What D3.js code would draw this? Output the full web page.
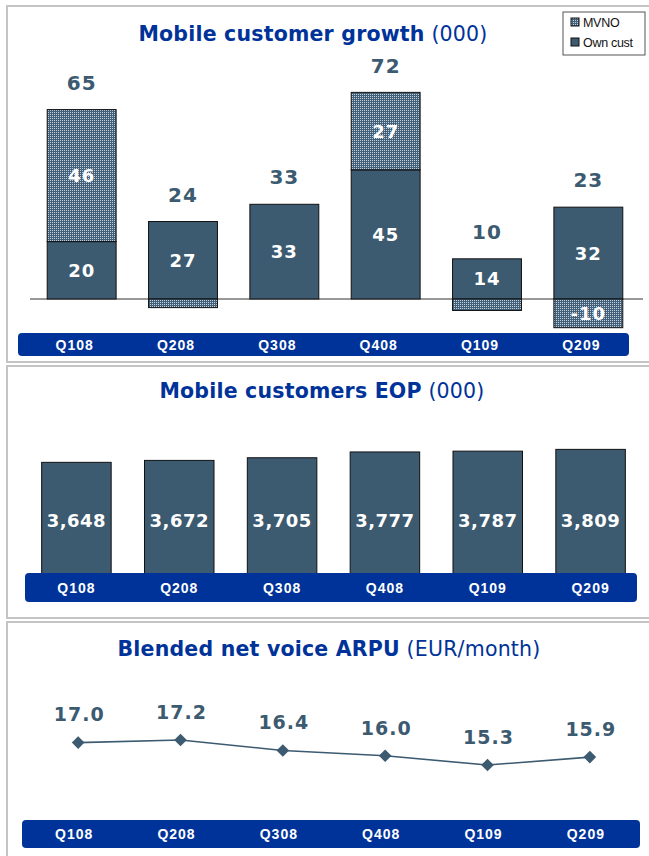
<!DOCTYPE html>
<html>
<head>
<meta charset="utf-8">
<script src="https://cdn.jsdelivr.net/npm/d3@7"></script>
<style>
  body { margin: 0; background: #fff; }
  svg { display: block; }
</style>
</head>
<body>
<script>
const quarters = ["Q108", "Q208", "Q308", "Q408", "Q109", "Q209"];
const ownCust = [20, 27, 33, 45, 14, 32];
const mvno = [46, -3, 0, 27, -4, -10];
const growthTotal = [65, 24, 33, 72, 10, 23];
const customersEop = [3648, 3672, 3705, 3777, 3787, 3809];
const arpu = [17.0, 17.2, 16.4, 16.0, 15.3, 15.9];

const W = 649, H = 856;
const slate = "#3c5a70", navy = "#003399";
const numFont = "'DejaVu Sans', Verdana, sans-serif";
const qFont = "'Liberation Sans', Arial, sans-serif";

const svg = d3.select("body").append("svg")
    .attr("width", W)
    .attr("height", H);

// dotted fill for the MVNO segments
const pat = svg.append("defs").append("pattern")
    .attr("id", "dots")
    .attr("width", 2).attr("height", 2)
    .attr("patternUnits", "userSpaceOnUse");
pat.append("rect").attr("width", 2).attr("height", 2).attr("fill", "#42607a");
pat.append("rect").attr("width", 1).attr("height", 1).attr("fill", "#c4d0da");

// panel frames
[[7, 6, 356], [7, 366, 252], [7, 622, 260]].forEach(([x, y, h]) => {
  svg.append("rect")
      .attr("x", x).attr("y", y)
      .attr("width", W + 20).attr("height", h)
      .attr("fill", "none")
      .attr("stroke", "#c4c4c4")
      .attr("stroke-width", 2);
});

function title(cx, y, bold, rest) {
  const t = svg.append("text")
      .attr("x", cx).attr("y", y)
      .attr("text-anchor", "middle")
      .attr("font-family", numFont)
      .attr("font-size", 20.5)
      .attr("letter-spacing", 0.2)
      .attr("fill", navy);
  t.append("tspan").attr("font-weight", "bold").text(bold);
  t.append("tspan").text(" " + rest);
}

function quarterBand(x0, x1, y0, h, xPos) {
  svg.append("rect")
      .attr("x", x0).attr("y", y0)
      .attr("width", x1 - x0).attr("height", h)
      .attr("rx", 4)
      .attr("fill", navy);
  svg.append("g").selectAll("text")
    .data(quarters)
    .join("text")
      .attr("x", d => xPos(d))
      .attr("y", y0 + h / 2)
      .attr("dy", "0.36em")
      .attr("text-anchor", "middle")
      .attr("font-family", qFont)
      .attr("font-weight", "bold")
      .attr("font-size", 14)
      .attr("letter-spacing", 1)
      .attr("fill", "#fff")
      .text(d => d);
}

// ---------- Panel 1: Mobile customer growth ----------
title(313, 41, "Mobile customer growth", "(000)");

const growth = quarters.map((q, i) => ({q, own: ownCust[i], mvno: mvno[i], total: growthTotal[i]}));

const x1 = d3.scaleBand().domain(quarters).range([31, 639]).paddingInner(0.32).paddingOuter(0.16);
const y1 = d3.scaleLinear().domain([-20, 80]).range([356.4, 69.4]);

svg.append("line")
    .attr("x1", 30).attr("x2", 643)
    .attr("y1", y1(0)).attr("y2", y1(0))
    .attr("stroke", "#333");

const g1 = svg.append("g");
g1.selectAll("rect.own")
  .data(growth)
  .join("rect")
    .attr("class", "own")
    .attr("x", d => x1(d.q))
    .attr("width", x1.bandwidth())
    .attr("y", d => y1(d.own))
    .attr("height", d => y1(0) - y1(d.own))
    .attr("fill", slate)
    .attr("stroke", "#111");

g1.selectAll("rect.mvno")
  .data(growth.filter(d => d.mvno !== 0))
  .join("rect")
    .attr("class", "mvno")
    .attr("x", d => x1(d.q))
    .attr("width", x1.bandwidth())
    .attr("y", d => d.mvno > 0 ? y1(d.own + d.mvno) : y1(0))
    .attr("height", d => Math.abs(y1(d.mvno) - y1(0)))
    .attr("fill", "url(#dots)")
    .attr("stroke", "#111");

const barText = sel => sel
    .attr("text-anchor", "middle")
    .attr("dy", "0.36em")
    .attr("font-family", numFont)
    .attr("font-weight", "bold")
    .attr("font-size", 18)
    .attr("letter-spacing", 1)
    .attr("fill", "#fff");

g1.selectAll("text.own")
  .data(growth)
  .join("text")
    .attr("class", "own")
    .attr("x", d => x1(d.q) + x1.bandwidth() / 2)
    .attr("y", d => (y1(0) + y1(d.own)) / 2)
    .call(barText)
    .text(d => d.own);

g1.selectAll("text.mvno")
  .data(growth.filter(d => Math.abs(d.mvno) >= 10))
  .join("text")
    .attr("class", "mvno")
    .attr("x", d => x1(d.q) + x1.bandwidth() / 2)
    .attr("y", d => d.mvno > 0 ? (y1(d.own) + y1(d.own + d.mvno)) / 2 : (y1(0) + y1(d.mvno)) / 2)
    .call(barText)
    .text(d => d.mvno);

g1.selectAll("text.total")
  .data(growth)
  .join("text")
    .attr("class", "total")
    .attr("x", d => x1(d.q) + x1.bandwidth() / 2)
    .attr("y", d => y1(Math.max(d.own, d.own + d.mvno)) - 27)
    .attr("dy", "0.36em")
    .attr("text-anchor", "middle")
    .attr("font-family", numFont)
    .attr("font-weight", "bold")
    .attr("font-size", 20)
    .attr("letter-spacing", 1)
    .attr("fill", slate)
    .text(d => d.total);

quarterBand(18, 629, 333, 23, d => x1(d) + x1.bandwidth() / 2 - 7);

// legend
const lg = svg.append("g").attr("transform", "translate(563,12)");
lg.append("rect").attr("width", 82).attr("height", 43).attr("fill", "#fff").attr("stroke", "#555");
[["MVNO", "url(#dots)"], ["Own cust", slate]].forEach(([name, fill], i) => {
  lg.append("rect")
      .attr("x", 8).attr("y", 6 + i * 20)
      .attr("width", 8).attr("height", 8)
      .attr("fill", fill).attr("stroke", "#111");
  lg.append("text")
      .attr("x", 20).attr("y", 10 + i * 20)
      .attr("dy", "0.36em")
      .attr("font-family", qFont)
      .attr("font-size", 12.5)
      .attr("letter-spacing", -0.3)
      .attr("fill", "#111")
      .text(name);
});

// ---------- Panel 2: Mobile customers EOP ----------
title(322, 398, "Mobile customers EOP", "(000)");

const eop = quarters.map((q, i) => ({q, v: customersEop[i]}));
const x2 = d3.scaleBand().domain(quarters).range([25, 642]).paddingInner(0.324).paddingOuter(0.162);
const y2 = d3.scaleLinear().domain([2000, 4000]).range([595, 434]);

const g2 = svg.append("g");
g2.selectAll("rect")
  .data(eop)
  .join("rect")
    .attr("x", d => x2(d.q))
    .attr("width", x2.bandwidth())
    .attr("y", d => y2(d.v))
    .attr("height", d => y2(2000) - y2(d.v))
    .attr("fill", slate)
    .attr("stroke", "#111");

g2.selectAll("text")
  .data(eop)
  .join("text")
    .attr("x", d => x2(d.q) + x2.bandwidth() / 2)
    .attr("y", 521)
    .call(barText)
    .attr("letter-spacing", 0.5)
    .text(d => d3.format(",")(d.v));

quarterBand(25, 637, 573, 29, d => x2(d) + x2.bandwidth() / 2);

// ---------- Panel 3: Blended net voice ARPU ----------
title(329, 656, "Blended net voice ARPU", "(EUR/month)");

const arpuData = quarters.map((q, i) => ({q, v: arpu[i]}));
const x3 = d3.scalePoint().domain(quarters).range([27, 641]).padding(0.5);
const y3 = d3.scaleLinear().domain([10, 20]).range([835, 703]);

svg.append("path")
    .datum(arpuData)
    .attr("fill", "none")
    .attr("stroke", slate)
    .attr("stroke-width", 1.6)
    .attr("d", d3.line().x(d => x3(d.q)).y(d => y3(d.v)));

svg.append("g").selectAll("path")
  .data(arpuData)
  .join("path")
    .attr("transform", d => `translate(${x3(d.q)},${y3(d.v)}) rotate(45)`)
    .attr("d", d3.symbol(d3.symbolSquare, 80))
    .attr("fill", slate);

svg.append("g").selectAll("text")
  .data(arpuData)
  .join("text")
    .attr("x", d => x3(d.q) + 1)
    .attr("y", d => y3(d.v) - 28)
    .attr("dy", "0.36em")
    .attr("text-anchor", "middle")
    .attr("font-family", numFont)
    .attr("font-weight", "bold")
    .attr("font-size", 19)
    .attr("letter-spacing", 1)
    .attr("fill", slate)
    .text(d => d.v.toFixed(1));

quarterBand(22, 640, 820, 28, d => x3(d) - 4);
</script>
</body>
</html>
